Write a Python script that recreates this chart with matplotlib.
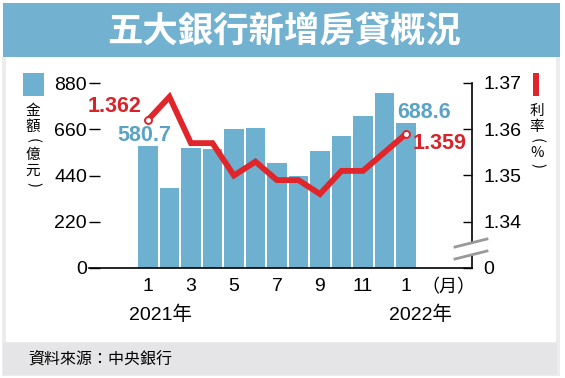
import matplotlib
matplotlib.use("Agg")
import matplotlib.pyplot as plt
from matplotlib.patches import Rectangle, Polygon
from matplotlib.lines import Line2D

plt.rcParams['font.family'] = ['Liberation Sans', 'Noto Sans CJK TC', 'DejaVu Sans']

# ---- data ----
month_labels = ['1', '3', '5', '7', '9', '11', '1']
amount = [580.7, 379, 570, 565, 660, 666, 501, 438, 558, 630, 723, 833, 688.6]   # 億元
rate = [1.362, 1.367, 1.357, 1.357, 1.350, 1.353, 1.349, 1.349, 1.346, 1.351, 1.351, 1.355, 1.359]  # %
left_ticks = [0, 220, 440, 660, 880]
right_ticks = [1.33, 1.34, 1.35, 1.36, 1.37]
right_tick_labels = ['0', '1.34', '1.35', '1.36', '1.37']
title = '五大銀行新增房貸概況'
source = '資料來源：中央銀行'

W, H = 565, 378
BLUE = '#6eb0cf'
BLUE_TXT = '#5aa3c5'
RED = '#e0252b'
RED_TXT = '#d8232a'

fig = plt.figure(figsize=(W / 100, H / 100), dpi=100)
fig.patch.set_facecolor('white')

def fx(px):
    return px / W

def fy(py):
    return 1 - py / H

def bg_rect(x0, y0, x1, y1, color, z=-5):
    fig.patches.append(Rectangle((fx(x0), fy(y1)), (x1 - x0) / W, (y1 - y0) / H,
                                 transform=fig.transFigure, facecolor=color, edgecolor='none', zorder=z))

# background framing
bg_rect(2, 57, 560, 376, '#ececee', -6)
bg_rect(6, 57, 556, 342, 'white', -5)
bg_rect(3, 343, 557, 375, '#e5e5e7', -5)
bg_rect(3, 3, 560, 57, '#72b2d0', -5)
fig.text(fx(284), fy(31), title, color='white', fontsize=25.5, fontweight='bold',
         family=['Noto Sans CJK TC'], ha='center', va='center')

# ---- axes ----
ax = fig.add_axes([fx(89), fy(268), (472 - 89) / W, (268 - 83) / H])
ax.set_facecolor('none')
x = list(range(len(amount)))
ax.bar(x, amount, width=0.91, color=BLUE, zorder=2)
ax.set_xlim(-2.74, 15.07)
ax.set_ylim(0, 880)
for s in ['top', 'left', 'right']:
    ax.spines[s].set_visible(False)
ax.spines['bottom'].set_linewidth(1.2)
ax.set_yticks(left_ticks)
ax.set_yticklabels([str(v) for v in left_ticks], fontsize=14)
ax.tick_params(axis='y', direction='in', length=8, width=1, pad=1.5)
ax.set_xticks(x[::2])
ax.set_xticklabels(month_labels, fontsize=14)
ax.tick_params(axis='x', length=0, pad=7)

ax2 = ax.twinx()
ax2.set_ylim(1.33, 1.37)
for s in ['top', 'left', 'bottom']:
    ax2.spines[s].set_visible(False)
ax2.spines['right'].set_linewidth(1.2)
ax2.set_yticks(right_ticks)
ax2.set_yticklabels(right_tick_labels, fontsize=14)
ax2.tick_params(axis='y', direction='in', length=6.5, width=1, pad=8)
ax2.plot(x, rate, color=RED, lw=4.2, solid_joinstyle='miter', zorder=3)
ax2.plot([x[0], x[-1]], [rate[0], rate[-1]], ls='none', marker='o', ms=5,
         mfc='white', mec=RED, mew=1.4, zorder=4)

# annotations
ax2.annotate(f'{rate[0]:.3f}', (x[0], rate[0]), xytext=(-33, 13), textcoords='offset pixels',
             ha='center', va='center', color=RED_TXT, fontsize=15.5, fontweight='bold')
ax.annotate(f'{amount[0]:.1f}', (x[0], amount[0]), xytext=(-4, 10), textcoords='offset pixels',
            ha='center', va='center', color=BLUE_TXT, fontsize=15.5, fontweight='bold')
ax.annotate(f'{amount[-1]:.1f}', (x[-1], amount[-1]), xytext=(18, 11), textcoords='offset pixels',
            ha='center', va='center', color=BLUE_TXT, fontsize=15.5, fontweight='bold')
ax2.annotate(f'{rate[-1]:.3f}', (x[-1], rate[-1]), xytext=(34, -10), textcoords='offset pixels',
             ha='center', va='center', color=RED_TXT, fontsize=15.5, fontweight='bold')

# axis break on right spine
fig.patches.append(Polygon([(fx(460), fy(246)), (fx(484), fy(240)), (fx(484), fy(252)), (fx(460), fy(258))],
                           closed=True, transform=fig.transFigure, facecolor='white', edgecolor='none', zorder=5))
for y0 in (247, 259):
    fig.lines.append(Line2D([fx(455), fx(487)], [fy(y0), fy(y0 - 8)], transform=fig.transFigure,
                            color='#999999', lw=2, zorder=6))

# x-axis extra labels
fig.text(fx(448), fy(287), '（月）', fontsize=13, ha='center', va='center', family=['Noto Sans CJK TC'])
fig.text(fx(161), fy(315), '2021年', fontsize=14, ha='center', va='center')
fig.text(fx(421), fy(315), '2022年', fontsize=14, ha='center', va='center')

# legends (vertical labels)
fig.patches.append(Rectangle((fx(23), fy(96)), 21 / W, 23 / H, transform=fig.transFigure,
                             facecolor=BLUE, edgecolor='none'))
fig.patches.append(Rectangle((fx(533), fy(96)), 6 / W, 23 / H, transform=fig.transFigure,
                             facecolor=RED, edgecolor='none'))

def vtext(px, items):
    for ch, py in items:
        rot = -90 if ch in '()' else 0
        fig.text(fx(px), fy(py), ch, fontsize=10.5, ha='center', va='center', rotation=rot,
                 family=['Noto Sans CJK TC', 'DejaVu Sans'])

vtext(33, [('金', 111), ('額', 127), ('(', 141), ('億', 155), ('元', 171), (')', 185)])
vtext(537, [('利', 111), ('率', 127), ('(', 140), ('%', 153), (')', 166)])

fig.text(fx(28), fy(359), source, fontsize=11.5, ha='left', va='center', family=['Noto Sans CJK TC'])

fig.savefig('out.png', dpi=100)
